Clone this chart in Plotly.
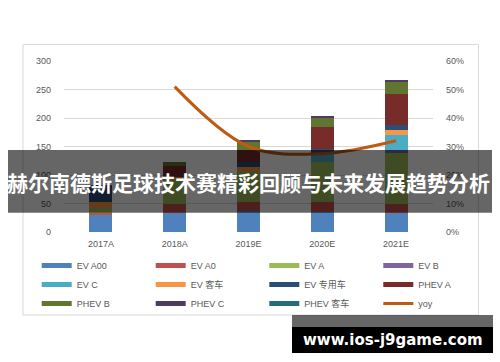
import plotly.graph_objects as go

categories = ["2017A", "2018A", "2019E", "2020E", "2021E"]

ev_a00 = [29, 33, 37, 35, 33]
ev_a0 = [4, 16.5, 16, 17.5, 17]
ev_a = [9, 41, 52, 70, 89]
ev_b = [0, 0, 0, 0, 4.4]
ev_c = [0, 0, 0, 14.6, 26.3]
ev_bus = [10, 6, 9, 0, 10]
ev_special = [30, 0, 8, 8.8, 7.5]
phev_a = [0, 19, 22, 38, 55.6]
phev_b = [0, 7.5, 14, 16.4, 20.7]
phev_c = [0, 0, 3, 4, 4]
phev_bus = [0, 0, 0, 0, 0]
yoy = [None, 0.51, 0.30, 0.275, 0.32]

series_names = ["EV A00", "EV A0", "EV A", "EV B", "EV C", "EV 客车", "EV 专用车",
                "PHEV A", "PHEV B", "PHEV C", "PHEV 客车"]
series_values = [ev_a00, ev_a0, ev_a, ev_b, ev_c, ev_bus, ev_special,
                 phev_a, phev_b, phev_c, phev_bus]
series_colors = ["#4F81BD", "#C0504D", "#9BBB59", "#8064A2", "#4BACC6", "#F79646",
                 "#2C4D75", "#772C2A", "#5F7530", "#4D3B62", "#276A7C"]
yoy_color = "#BE5B13"

W, H = 500, 362
ML, MR, MT, MB = 64, 67, 61, 130
PW, PH = W - ML - MR, H - MT - MB


def px2x(px):
    return (px - ML) / PW


def px2y(py):
    return (H - MB - py) / PH


fig = go.Figure()

for name, vals, col in zip(series_names, series_values, series_colors):
    fig.add_trace(go.Bar(x=categories, y=vals, name=name, marker_color=col,
                         marker_line_width=0, showlegend=False))

fig.add_trace(go.Scatter(x=categories, y=yoy, name="yoy", mode="lines",
                         line=dict(color=yoy_color, width=3, shape="spline", smoothing=1),
                         yaxis="y2", showlegend=False))

# legend entries (line swatches), laid out in 4 columns
legend_ids = ["legend", "legend2", "legend3", "legend4"]
for i, (name, col) in enumerate(zip(series_names + ["yoy"], series_colors + [yoy_color])):
    fig.add_trace(go.Scatter(x=[None], y=[None], name=name, mode="lines",
                             legend=legend_ids[i % 4],
                             line=dict(color=col, width=5 if name != "yoy" else 3)))

font_fam = "Liberation Sans, Arial, Noto Sans CJK SC, sans-serif"
text_cols = [76.7, 190.7, 304.3, 418.3]
legend_common = dict(orientation="v", xanchor="left", y=px2y(251), yanchor="top",
                     traceorder="normal", font=dict(size=9, color="#595959"),
                     bgcolor="rgba(0,0,0,0)", borderwidth=0)

fig.update_layout(
    width=W, height=H,
    margin=dict(l=ML, r=MR, t=MT, b=MB, autoexpand=False),
    paper_bgcolor="white", plot_bgcolor="white",
    barmode="stack", bargap=0.69,
    font=dict(family=font_fam, size=9, color="#595959"),
    xaxis=dict(type="category", showgrid=False, zeroline=False, showline=False,
               ticks="", ticklabelstandoff=5, tickfont=dict(size=9, color="#595959")),
    yaxis=dict(range=[0, 300], dtick=50, showgrid=True, gridcolor="#D9D9D9",
               gridwidth=1, zeroline=False, showline=False, ticks="",
               ticklabelstandoff=12, tickfont=dict(size=9, color="#595959")),
    yaxis2=dict(range=[0, 0.6], dtick=0.1, tickformat=".0%", overlaying="y",
                side="right", showgrid=False, zeroline=False, showline=False,
                ticks="", ticklabelstandoff=12, tickfont=dict(size=9, color="#595959")),
    legend=dict(x=px2x(text_cols[0] - 40), **legend_common),
    legend2=dict(x=px2x(text_cols[1] - 40), **legend_common),
    legend3=dict(x=px2x(text_cols[2] - 40), **legend_common),
    legend4=dict(x=px2x(text_cols[3] - 40), **legend_common),
    shapes=[
        dict(type="rect", xref="paper", yref="paper",
             x0=px2x(23), x1=px2x(478.5), y0=px2y(44.5), y1=px2y(315),
             line=dict(color="#D9D9D9", width=1), fillcolor="rgba(0,0,0,0)", layer="below"),
        dict(type="rect", xref="paper", yref="paper",
             x0=px2x(8), x1=px2x(492), y0=px2y(150), y1=px2y(212.7),
             line=dict(width=0), fillcolor="rgba(0,0,0,0.6)", layer="above"),
        dict(type="rect", xref="paper", yref="paper",
             x0=px2x(292), x1=px2x(493), y0=px2y(315), y1=px2y(327),
             line=dict(width=0), fillcolor="rgba(0,0,0,0.6)", layer="above"),
        dict(type="rect", xref="paper", yref="paper",
             x0=px2x(292), x1=px2x(493), y0=px2y(327), y1=px2y(353),
             line=dict(width=0), fillcolor="#000000", layer="above"),
    ],
    annotations=[
        dict(text="<b>赫尔南德斯足球技术赛精彩回顾与未来发展趋势分析</b>", xref="paper", yref="paper",
             x=px2x(249), y=px2y(181.5), showarrow=False, xanchor="center", yanchor="middle",
             font=dict(family="Noto Sans CJK SC, sans-serif", size=21, color="white")),
        dict(text="<b>www.ios-j9game.com</b>", xref="paper", yref="paper",
             x=px2x(393), y=px2y(340), showarrow=False, xanchor="center", yanchor="middle",
             font=dict(family="DejaVu Sans, sans-serif", size=15, color="white")),
    ],
)

fig.write_html("out.html")
